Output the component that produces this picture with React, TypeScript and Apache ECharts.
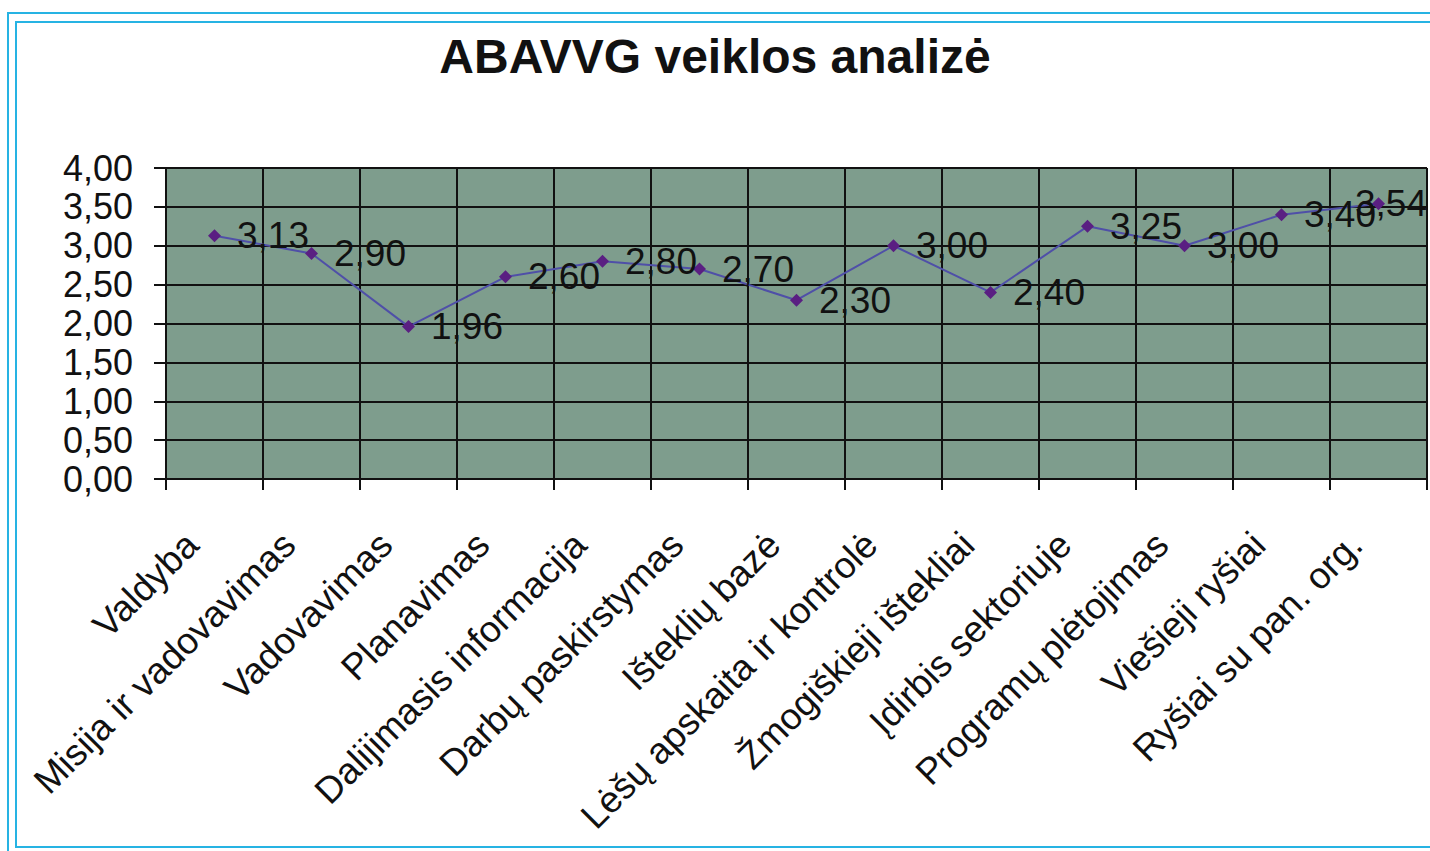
import React, { useEffect, useRef } from "react";
import * as echarts from "echarts";

const titleText = "ABAVVG veiklos analizė";
const categories = [
  "Valdyba",
  "Misija ir vadovavimas",
  "Vadovavimas",
  "Planavimas",
  "Dalijimasis informacija",
  "Darbų paskirstymas",
  "Išteklių bazė",
  "Lėšų apskaita ir kontrolė",
  "Žmogiškieji ištekliai",
  "Įdirbis sektoriuje",
  "Programų plėtojimas",
  "Viešieji ryšiai",
  "Ryšiai su pan. org.",
];
const values = [3.13, 2.9, 1.96, 2.6, 2.8, 2.7, 2.3, 3.0, 2.4, 3.25, 3.0, 3.4, 3.54];
const yMin = 0;
const yMax = 4;
const yStep = 0.5;

const fmt = (v: number) => v.toFixed(2).replace(".", ",");
const FONT = "'Liberation Sans', Arial, sans-serif";
const CYAN = "#26b3e3";

export default function App() {
  const ref = useRef<HTMLDivElement>(null);
  useEffect(() => {
    if (!ref.current) return;
    const chart = echarts.init(ref.current, undefined, { renderer: "svg" });
    const last = values.length - 1;
    const seriesData = values.map((v, i) =>
      i === last ? { value: v, label: { offset: [-46, 0] } } : v
    );
    chart.setOption({
      animation: false,
      backgroundColor: "#ffffff",
      textStyle: { fontFamily: FONT },
      title: {
        text: titleText,
        left: "center",
        top: 27,
        textStyle: { fontFamily: FONT, fontSize: 48, fontWeight: "bold", color: "#111" },
      },
      graphic: [
        {
          type: "rect",
          shape: { x: 8, y: 13, width: 1440, height: 850 },
          style: { fill: "none", stroke: CYAN, lineWidth: 2 },
          silent: true,
        },
        {
          type: "rect",
          shape: { x: 16, y: 22, width: 1430, height: 825 },
          style: { fill: "none", stroke: CYAN, lineWidth: 2 },
          silent: true,
        },
      ],
      grid: {
        left: 166,
        top: 168,
        right: 3,
        bottom: 372,
        show: true,
        backgroundColor: "#7e9d8d",
        borderWidth: 0,
        containLabel: false,
      },
      xAxis: {
        type: "category",
        data: categories,
        boundaryGap: true,
        axisLine: { show: true, lineStyle: { color: "#111", width: 2 } },
        axisTick: { show: true, length: 11, inside: false, lineStyle: { color: "#111", width: 2 } },
        splitLine: { show: true, lineStyle: { color: "#111", width: 2 } },
        axisLabel: {
          interval: 0,
          rotate: 45,
          margin: 37,
          padding: [0, 32, 0, 0],
          fontFamily: FONT,
          fontSize: 37,
          color: "#111",
        },
      },
      yAxis: {
        type: "value",
        min: yMin,
        max: yMax,
        interval: yStep,
        axisLine: { show: true, lineStyle: { color: "#111", width: 2 } },
        axisTick: { show: true, length: 12, lineStyle: { color: "#111", width: 2 } },
        splitLine: { show: true, lineStyle: { color: "#111", width: 2 } },
        axisLabel: {
          margin: 33,
          fontFamily: FONT,
          fontSize: 36,
          color: "#111",
          formatter: (v: number) => fmt(v),
        },
      },
      series: [
        {
          type: "line",
          data: seriesData,
          symbol: "diamond",
          symbolSize: 13,
          lineStyle: { color: "#4f4fa8", width: 2 },
          itemStyle: { color: "#5a1f82" },
          label: {
            show: true,
            position: "right",
            distance: 16,
            fontFamily: FONT,
            fontSize: 37,
            color: "#111",
            formatter: (p: any) => fmt(Number(p.value)),
          },
          z: 5,
        },
      ],
    });
    return () => chart.dispose();
  }, []);
  return (
    <div
      ref={ref}
      style={{ position: "fixed", left: 0, top: 0, width: 1430, height: 851 }}
    />
  );
}
